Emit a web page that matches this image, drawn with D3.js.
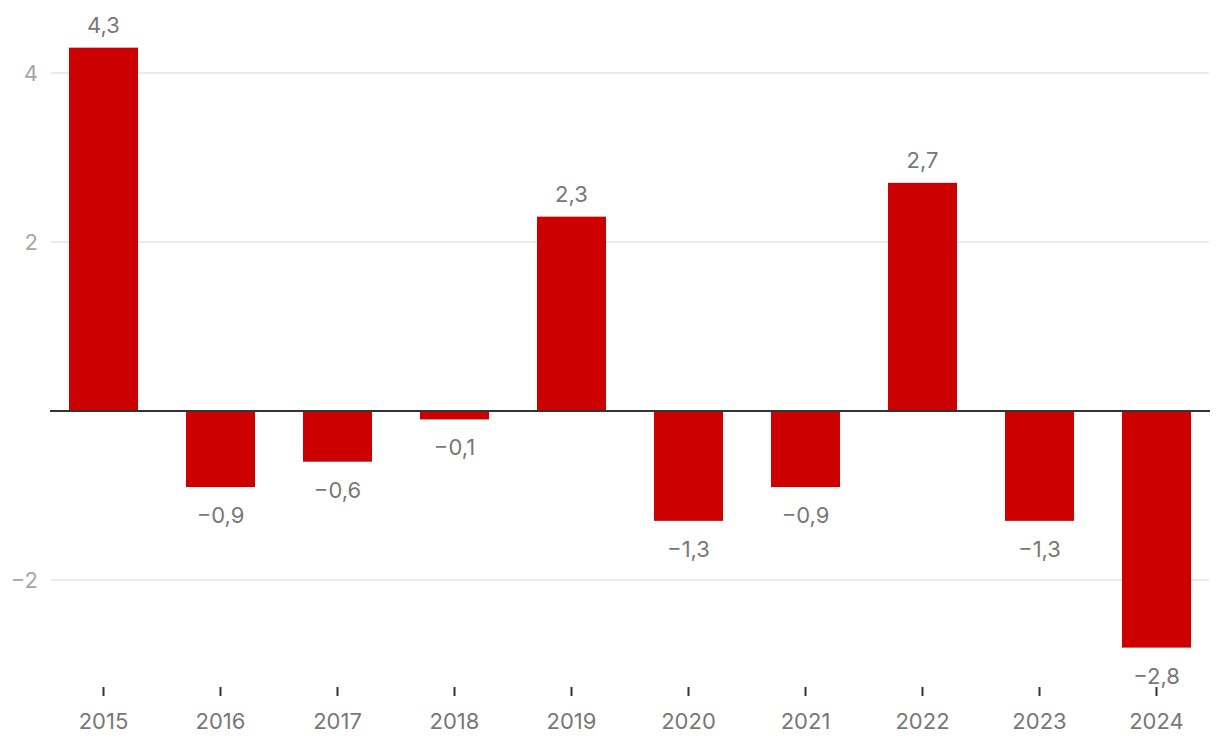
<!DOCTYPE html>
<html>
<head>
<meta charset="utf-8">
<script src="https://cdn.jsdelivr.net/npm/d3@7"></script>
<style>
  body { margin: 0; background: #fff; }
  text { font-family: Inter, sans-serif; }
</style>
</head>
<body>
<svg width="1220" height="750"></svg>
<script>
const years = ["2015","2016","2017","2018","2019","2020","2021","2022","2023","2024"];
const values = [4.3, -0.9, -0.6, -0.1, 2.3, -1.3, -0.9, 2.7, -1.3, -2.8];
const yTicks = [-2, 2, 4];

const svg = d3.select("svg");
const fmt = v => (v < 0 ? "\u2212" : "") + Math.abs(v).toFixed(1).replace(".", ",");

const xs = d3.scaleBand().domain(years).range([45, 1215])
  .paddingInner(0.41).paddingOuter(0.205);
const ys = d3.scaleLinear().domain([-2, 4]).range([580, 73]);

// grid
svg.append("g").selectAll("line")
  .data(yTicks).enter().append("line")
  .attr("x1", 51).attr("x2", 1209)
  .attr("y1", d => ys(d)).attr("y2", d => ys(d))
  .attr("stroke", "#e3e3e3").attr("stroke-width", 1.5);

svg.append("g").selectAll("text")
  .data(yTicks).enter().append("text")
  .attr("x", 38).attr("y", d => ys(d))
  .attr("dy", "0.36em")
  .attr("text-anchor", "end")
  .attr("fill", "#a6a6a6")
  .style("font-size", "22px")
  .text(d => d < 0 ? "\u2212" + Math.abs(d) : d);

// bars
svg.append("g").selectAll("rect")
  .data(values).enter().append("rect")
  .attr("x", (d, i) => xs(years[i]))
  .attr("width", xs.bandwidth())
  .attr("y", d => ys(Math.max(0, d)))
  .attr("height", d => Math.abs(ys(d) - ys(0)))
  .attr("fill", "#cc0000");

// zero line
svg.append("line")
  .attr("x1", 50).attr("x2", 1210)
  .attr("y1", ys(0)).attr("y2", ys(0))
  .attr("stroke", "#333").attr("stroke-width", 2);

// value labels
svg.append("g").selectAll("text")
  .data(values).enter().append("text")
  .attr("x", (d, i) => xs(years[i]) + xs.bandwidth() / 2)
  .attr("y", d => d >= 0 ? ys(d) - 15 : ys(d) + 36)
  .attr("text-anchor", "middle")
  .attr("fill", "#777")
  .style("font-size", "22px")
  .text(fmt);

// x axis
const xAxis = d3.axisBottom(xs).tickSize(9);
const gx = svg.append("g")
  .attr("transform", "translate(0,687)")
  .call(xAxis);
gx.select(".domain").remove();
gx.selectAll(".tick line").attr("stroke", "#333").attr("stroke-width", 2);
gx.selectAll(".tick text")
  .attr("y", 42).attr("dy", null)
  .attr("fill", "#777")
  .style("font-size", "22px")
  .style("font-family", "Inter, sans-serif");
</script>
</body>
</html>
